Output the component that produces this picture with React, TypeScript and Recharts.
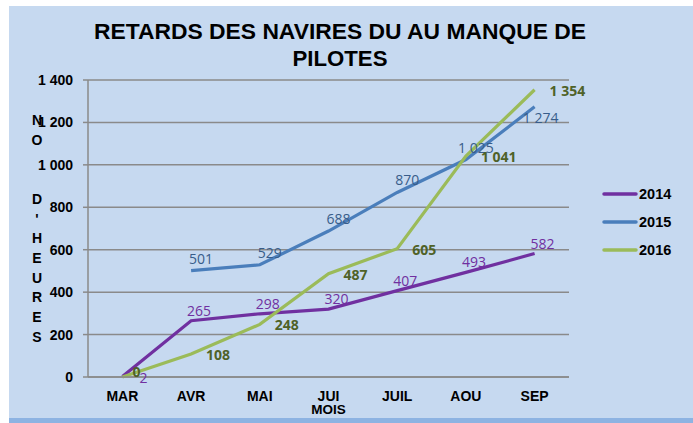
import React from "react";
import { LineChart, Line, XAxis, YAxis, CartesianGrid, Legend } from "recharts";

const months = ["MAR", "AVR", "MAI", "JUI", "JUIL", "AOU", "SEP"];
const values2014 = [2, 265, 298, 320, 407, 493, 582];
const values2015 = [null, 501, 529, 688, 870, 1025, 1274];
const values2016 = [0, 108, 248, 487, 605, 1041, 1354];
const yTicks = [0, 200, 400, 600, 800, 1000, 1200, 1400];
const titleLines = ["RETARDS DES NAVIRES DU AU MANQUE DE", "PILOTES"];
const yLabelChars = ["N", "O", "", "", "D", "'", "H", "E", "U", "R", "E", "S"];

const data = months.map((m, i) => ({
  month: m,
  y2014: values2014[i],
  y2015: values2015[i],
  y2016: values2016[i],
}));

const fmt = (v: number) => String(v).replace(/\B(?=(\d{3})+(?!\d))/g, " ");

const GRID = "#8a8a8a";
const BG = "#c6d9f0";

type Tweak = { [i: number]: { dx: number; dy: number } };

const makeLabel =
  (color: string, bold: boolean, anchor: string, dx: number, dy: number, tweaks: Tweak = {}) =>
  (props: any) => {
    const { x, y, value, index } = props;
    if (value == null || x == null || y == null) return null;
    const t = tweaks[index] || { dx, dy };
    return (
      <text
        key={`l-${index}`}
        x={x + t.dx}
        y={y + t.dy}
        fill={color}
        fontSize={14}
        fontWeight={bold ? 700 : 400}
        fontFamily="'Open Sans', sans-serif"
        textAnchor={anchor as any}
      >
        {fmt(value)}
      </text>
    );
  };

const LegendBox = (props: any) => {
  const { payload } = props;
  return (
    <div style={{ fontFamily: "'Liberation Sans', Arial, sans-serif" }}>
      {(payload || []).map((p: any) => (
        <div key={p.value} style={{ display: "flex", alignItems: "center", height: 28 }}>
          <svg width={37} height={10}>
            <line x1={2} y1={5} x2={34} y2={5} stroke={p.color} strokeWidth={3.5} strokeLinecap="round" />
          </svg>
          <span style={{ fontSize: 14.5, fontWeight: 700, color: "#000" }}>{p.value}</span>
        </div>
      ))}
    </div>
  );
};

export default function App() {
  return (
    <div style={{ position: "absolute", left: 0, top: 0, width: 693, height: 423, background: "#fff" }}>
      <div
        style={{
          position: "absolute",
          left: 9,
          top: 6,
          width: 684,
          height: 412,
          background: BG,
          borderBottom: "5px solid #8db3e2",
        }}
      >
        <LineChart width={684} height={412} data={data} margin={{ top: 74, right: 124, bottom: 0, left: 0 }}>
          <CartesianGrid vertical={false} stroke={GRID} strokeWidth={1.5} />
          <XAxis
            dataKey="month"
            padding={{ left: 34.4, right: 34.4 }}
            height={41}
            tickLine={false}
            axisLine={{ stroke: GRID, strokeWidth: 1.5 }}
            tickMargin={8}
            tick={{ fill: "#000", fontSize: 14, fontWeight: 700, fontFamily: "'Liberation Sans', Arial, sans-serif" }}
            interval={0}
            label={{
              value: "MOIS",
              position: "insideBottom",
              offset: 4,
              fill: "#000",
              fontSize: 13.5,
              fontWeight: 700,
              fontFamily: "'Liberation Sans', Arial, sans-serif",
            }}
          />
          <YAxis
            width={79}
            domain={[0, 1400]}
            ticks={yTicks}
            interval={0}
            tickFormatter={fmt}
            tickSize={5}
            tickMargin={10}
            tickLine={{ stroke: GRID, strokeWidth: 1.5 }}
            axisLine={{ stroke: GRID, strokeWidth: 1.5 }}
            tick={{ fill: "#000", fontSize: 14, fontWeight: 700, fontFamily: "'Liberation Sans', Arial, sans-serif" }}
          />
          <Legend
            layout="horizontal"
            verticalAlign="middle"
            align="center"
            width={90}
            content={<LegendBox />}
            wrapperStyle={{ left: 593, top: 174, width: 90, height: 84 }}
          />
          <Line
            name="2014"
            dataKey="y2014"
            type="linear"
            stroke="#7030a0"
            strokeWidth={3.2}
            dot={false}
            isAnimationActive={false}
            label={makeLabel("#7030a0", false, "middle", 8, -5, { 0: { dx: 21, dy: 6 } })}
          />
          <Line
            name="2015"
            dataKey="y2015"
            type="linear"
            stroke="#4a7ebb"
            strokeWidth={3.2}
            dot={false}
            isAnimationActive={false}
            label={makeLabel("#385d8a", false, "middle", 10, -7, { 6: { dx: 6, dy: 16 } })}
          />
          <Line
            name="2016"
            dataKey="y2016"
            type="linear"
            stroke="#9bbb59"
            strokeWidth={3.2}
            dot={false}
            isAnimationActive={false}
            label={makeLabel("#4f6228", true, "start", 15, 6, { 0: { dx: 10, dy: 0 } })}
          />
        </LineChart>
        <svg
          width={684}
          height={412}
          style={{ position: "absolute", left: 0, top: 0, pointerEvents: "none" }}
        >
          <g fontFamily="'Liberation Sans', Arial, sans-serif" fontWeight={700} fill="#000">
            <text x={331} y={33.3} fontSize={22.7} textAnchor="middle" textLength={492} lengthAdjust="spacingAndGlyphs">
              {titleLines[0]}
            </text>
            <text x={331} y={60} fontSize={22.7} textAnchor="middle" textLength={95} lengthAdjust="spacingAndGlyphs">
              {titleLines[1]}
            </text>
            {yLabelChars.map((c, i) => (
              <text key={i} x={28} y={119 + i * 19.7} fontSize={14} textAnchor="middle">
                {c}
              </text>
            ))}
          </g>
        </svg>
      </div>
    </div>
  );
}
